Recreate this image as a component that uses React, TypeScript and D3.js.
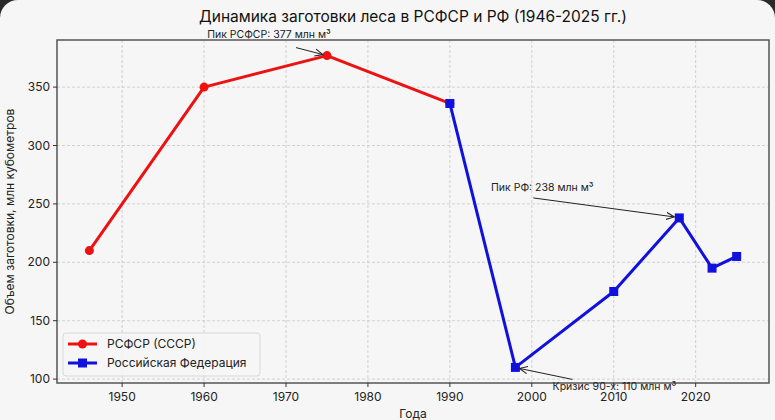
import React from 'react';
import * as d3 from 'd3';

const rsfsrYears = [1946, 1960, 1975, 1990];
const rsfsrValues = [210, 350, 377, 336];
const rfYears = [1990, 1998, 2010, 2018, 2022, 2025];
const rfValues = [336, 110, 175, 238, 195, 205];
const xTicks = [1950, 1960, 1970, 1980, 1990, 2000, 2010, 2020];
const yTicks = [100, 150, 200, 250, 300, 350];

const W = 775;
const H = 420;
const margin = { top: 40, right: 6, bottom: 37, left: 57 };
const font = 'Inter, "Noto Sans", sans-serif';

const App: React.FC = () => {
  const x = d3.scaleLinear().domain([1942.05, 2028.95]).range([margin.left, W - margin.right]);
  const y = d3.scaleLinear().domain([96.65, 390.35]).range([H - margin.bottom, margin.top]);

  const line = d3
    .line<[number, number]>()
    .x((d) => x(d[0]))
    .y((d) => y(d[1]));

  const red = rsfsrYears.map((yr, i) => [yr, rsfsrValues[i]] as [number, number]);
  const blue = rfYears.map((yr, i) => [yr, rfValues[i]] as [number, number]);

  const x0 = margin.left;
  const x1 = W - margin.right;
  const y0 = margin.top;
  const y1 = H - margin.bottom;

  // annotation helpers
  const peakSU = { x: x(1975), y: y(377) };
  const peakRF = { x: x(2018), y: y(238) };
  const crisis = { x: x(1998), y: y(110) };

  return (
    <svg width={W} height={H} style={{ position: 'absolute', left: 0, top: 0 }}>
      <defs>
        <marker id="arr" viewBox="0 0 10 10" refX="9" refY="5" markerWidth="9" markerHeight="9" orient="auto">
          <path d="M0,1 L9,5 L0,9" fill="none" stroke="#222" strokeWidth="1.2" />
        </marker>
      </defs>
      <rect width={W} height={H} fill="#2a2a2a" />
      <rect width={W} height={H + 30} rx={18} fill="#f6f6f6" />

      {/* grid */}
      {xTicks.map((t) => (
        <line key={'gx' + t} x1={x(t)} x2={x(t)} y1={y0} y2={y1} stroke="#c8c8c8" strokeDasharray="3,2" strokeWidth={0.8} />
      ))}
      {yTicks.map((t) => (
        <line key={'gy' + t} x1={x0} x2={x1} y1={y(t)} y2={y(t)} stroke="#c8c8c8" strokeDasharray="3,2" strokeWidth={0.8} />
      ))}

      {/* frame */}
      <rect x={x0} y={y0} width={x1 - x0} height={y1 - y0} fill="none" stroke="#555" strokeWidth={1.5} />

      {/* ticks */}
      {xTicks.map((t) => (
        <g key={'tx' + t}>
          <line x1={x(t)} x2={x(t)} y1={y1} y2={y1 + 4} stroke="#333" />
          <text x={x(t)} y={y1 + 18} textAnchor="middle" fontSize={12} fontFamily={font} fill="#222">
            {t}
          </text>
        </g>
      ))}
      {yTicks.map((t) => (
        <g key={'ty' + t}>
          <line x1={x0 - 4} x2={x0} y1={y(t)} y2={y(t)} stroke="#333" />
          <text x={x0 - 7} y={y(t) + 4} textAnchor="end" fontSize={12} fontFamily={font} fill="#222">
            {t}
          </text>
        </g>
      ))}

      {/* series */}
      <path d={line(red) ?? ''} fill="none" stroke="#ee1111" strokeWidth={3} strokeLinejoin="round" />
      {red.map((d) => (
        <circle key={'r' + d[0]} cx={x(d[0])} cy={y(d[1])} r={4.5} fill="#ee1111" />
      ))}
      <path d={line(blue) ?? ''} fill="none" stroke="#1111dd" strokeWidth={3} strokeLinejoin="round" />
      {blue.map((d) => (
        <rect key={'b' + d[0]} x={x(d[0]) - 4.5} y={y(d[1]) - 4.5} width={9} height={9} fill="#1111dd" />
      ))}

      {/* annotations */}
      <line x1={peakSU.x - 31} y1={peakSU.y - 8} x2={peakSU.x - 4} y2={peakSU.y - 1} stroke="#222" strokeWidth={1} markerEnd="url(#arr)" />
      <text x={peakSU.x - 58} y={y0 - 2} textAnchor="middle" fontSize={10.5} fontFamily={font} fill="#222">
        Пик РСФСР: 377 млн м³
      </text>
      <line x1={peakRF.x - 146} y1={peakRF.y - 20} x2={peakRF.x - 5} y2={peakRF.y - 1} stroke="#222" strokeWidth={1} markerEnd="url(#arr)" />
      <text x={peakRF.x - 137} y={peakRF.y - 27} textAnchor="middle" fontSize={10.5} fontFamily={font} fill="#222">
        Пик РФ: 238 млн м³
      </text>
      <line x1={crisis.x + 57} y1={crisis.y + 12} x2={crisis.x + 4} y2={crisis.y + 1} stroke="#222" strokeWidth={1} markerEnd="url(#arr)" />
      <text x={crisis.x + 99} y={crisis.y + 23} textAnchor="middle" fontSize={10.5} fontFamily={font} fill="#222">
        Кризис 90-х: 110 млн м³
      </text>

      {/* legend */}
      <rect x={63} y={333} width={197} height={43} rx={3} fill="#f6f6f6" fillOpacity={0.85} stroke="#d8d8d8" />
      <line x1={68} x2={97} y1={344} y2={344} stroke="#ee1111" strokeWidth={3} />
      <circle cx={82.5} cy={344} r={4.5} fill="#ee1111" />
      <text x={107} y={348} fontSize={12} fontFamily={font} fill="#222">
        РСФСР (СССР)
      </text>
      <line x1={68} x2={97} y1={363} y2={363} stroke="#1111dd" strokeWidth={3} />
      <rect x={78} y={358.5} width={9} height={9} fill="#1111dd" />
      <text x={107} y={367} fontSize={12} fontFamily={font} fill="#222">
        Российская Федерация
      </text>

      {/* labels */}
      <text x={413} y={22} textAnchor="middle" fontSize={15.5} fontFamily={font} fill="#111">
        Динамика заготовки леса в РСФСР и РФ (1946-2025 гг.)
      </text>
      <text x={413} y={418} textAnchor="middle" fontSize={12} fontFamily={font} fill="#222">
        Года
      </text>
      <text transform={`translate(14,${(y0 + y1) / 2}) rotate(-90)`} textAnchor="middle" fontSize={12} fontFamily={font} fill="#222">
        Объем заготовки, млн кубометров
      </text>
    </svg>
  );
};

export default App;
